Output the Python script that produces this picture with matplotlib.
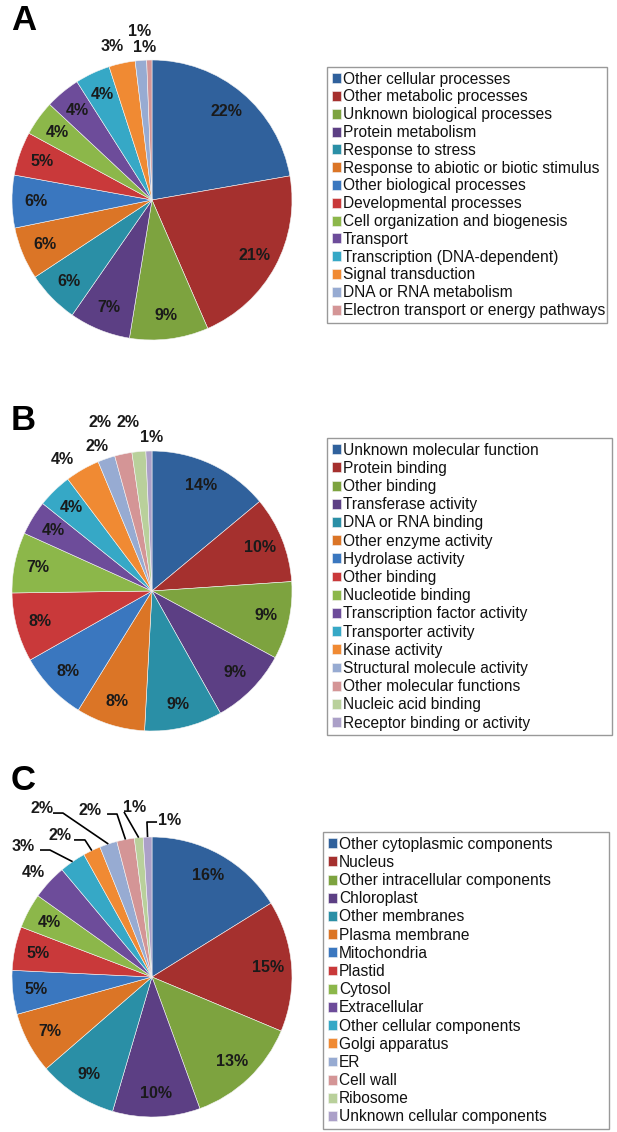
import numpy as np
import matplotlib
matplotlib.use('Agg')
from matplotlib import pyplot as plt

plt.rcParams['font.family'] = ['Liberation Sans', 'DejaVu Sans']

W, H = 617, 1132
R = 140  # pie radius in pixels

colors = ['#30619c', '#a5302e', '#7da33f', '#5c3f84', '#2a8fa6', '#db7526',
          '#3a77bf', '#c9393a', '#8cb74a', '#6d4c9a', '#36a8c6', '#f08a33',
          '#97abd2', '#d49596', '#b9d09b', '#aba0c8']

# A - biological process
bio_names = ['Other cellular processes', 'Other metabolic processes',
             'Unknown biological processes', 'Protein metabolism',
             'Response to stress', 'Response to abiotic or biotic stimulus',
             'Other biological processes', 'Developmental processes',
             'Cell organization and biogenesis', 'Transport',
             'Transcription (DNA-dependent)', 'Signal transduction',
             'DNA or RNA metabolism', 'Electron transport or energy pathways']
bio_values = [22, 21, 9, 7, 6, 6, 6, 5, 4, 4, 4, 3, 1.3, 0.6]

# B - molecular function
mol_names = ['Unknown molecular function', 'Protein binding', 'Other binding',
             'Transferase activity', 'DNA or RNA binding',
             'Other enzyme activity', 'Hydrolase activity', 'Other binding',
             'Nucleotide binding', 'Transcription factor activity',
             'Transporter activity', 'Kinase activity',
             'Structural molecule activity', 'Other molecular functions',
             'Nucleic acid binding', 'Receptor binding or activity']
mol_values = [14, 10, 9, 9, 9, 8, 8, 8, 7, 4, 4, 4, 2, 2, 1.6, 0.7]

# C - cellular component
cell_names = ['Other cytoplasmic components', 'Nucleus',
              'Other intracellular components', 'Chloroplast',
              'Other membranes', 'Plasma membrane', 'Mitochondria', 'Plastid',
              'Cytosol', 'Extracellular', 'Other cellular components',
              'Golgi apparatus', 'ER', 'Cell wall', 'Ribosome',
              'Unknown cellular components']
cell_values = [16, 15, 13, 10, 9, 7, 5, 5, 4, 4, 3, 2, 2, 2, 1, 1]

fig = plt.figure(figsize=(W / 100, H / 100), dpi=100)


def draw_panel(letter, letter_y, cy, values, names, legend_box, spacing,
               outside={}, leaders={}):
    bottom = 1 - (cy + 155) / H
    ax = fig.add_axes([0, bottom, 320 / W, 345 / H])
    wedges, _ = ax.pie(values, colors=colors[:len(values)], startangle=90,
                       counterclock=False, radius=1,
                       wedgeprops=dict(edgecolor='#f4f4f4', linewidth=0.4))
    for i, w in enumerate(wedges):
        mid = np.deg2rad((w.theta1 + w.theta2) / 2)
        txt = '%d%%' % round(values[i])
        if i in outside:
            x, y = outside[i]
        else:
            x, y = 0.83 * np.cos(mid), 0.83 * np.sin(mid)
        ax.text(x, y, txt, ha='center', va='center', fontsize=11.5,
                fontweight='bold', color='#1a1a1a')
        if i in leaders:
            x0, x1, ly = leaders[i]
            ax.plot([x0, x1, np.cos(mid)], [ly, ly, np.sin(mid)],
                    color='black', lw=1.2, solid_capstyle='butt')
    ax.set_xlim(-152 / R, (320 - 152) / R)
    ax.set_ylim(-155 / R, 190 / R)
    ax.set_aspect('auto')
    ax.axis('off')
    fig.text(11 / W, 1 - letter_y / H, letter, fontsize=25,
             fontweight='bold', va='baseline')
    lx, ly, lw = legend_box
    leg = ax.legend(wedges, names, loc='upper left', mode='expand',
                    bbox_to_anchor=(lx / W, 1 - ly / H - 0.01, lw / W, 0.01),
                    bbox_transform=fig.transFigure, frameon=True,
                    fancybox=False, edgecolor='#808080', fontsize=11.2,
                    handlelength=0.6, handleheight=0.6, handletextpad=0.12,
                    labelspacing=spacing, borderpad=0.3, borderaxespad=0)
    leg.get_frame().set_linewidth(1.0)
    for t in leg.get_texts():
        t.set_color('#111111')


draw_panel('A', 30, 200, bio_values, bio_names, (327, 67, 280), 0.18,
           outside={11: (-0.286, 1.093), 12: (-0.086, 1.207),
                    13: (-0.05, 1.086)})

draw_panel('B', 430, 591, mol_values, mol_names, (327, 438, 285), 0.205,
           outside={11: (-0.643, 0.936), 12: (-0.393, 1.029),
                    13: (-0.371, 1.207), 14: (-0.171, 1.207),
                    15: (0.0, 1.1)})

draw_panel('C', 790, 977, cell_values, cell_names, (323, 832, 286), 0.205,
           outside={9: (-0.85, 0.743), 10: (-0.921, 0.929),
                    11: (-0.657, 1.014), 12: (-0.786, 1.207),
                    13: (-0.443, 1.186), 14: (-0.121, 1.214),
                    15: (0.129, 1.121)},
           leaders={10: (-0.8, -0.729, 0.907), 11: (-0.557, -0.479, 0.979),
                    12: (-0.707, -0.636, 1.171), 13: (-0.321, -0.25, 1.164),
                    14: (-0.2, -0.2, 1.179), 15: (0.036, -0.036, 1.107)})

fig.savefig('out.png', dpi=100)
